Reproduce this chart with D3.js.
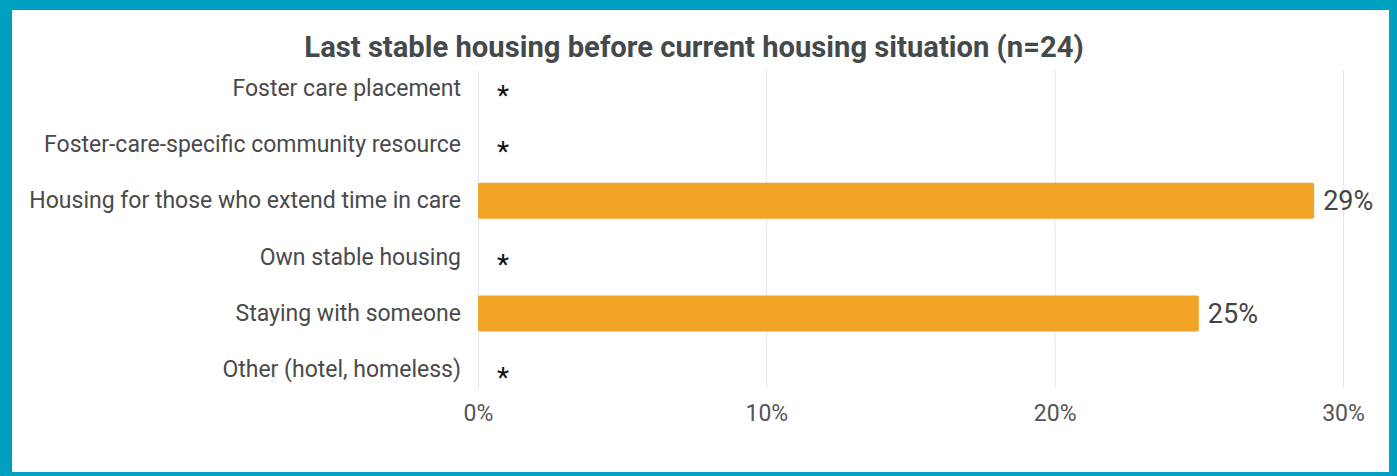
<!DOCTYPE html>
<html>
<head>
<meta charset="utf-8">
<script src="https://cdn.jsdelivr.net/npm/d3@7"></script>
<style>
  html, body { margin: 0; padding: 0; background: #fff; }
  svg { display: block; }
  text { font-family: Roboto, "Noto Sans", sans-serif; }
</style>
</head>
<body>
<svg id="chart" width="1397" height="476"></svg>
<script>
const title = "Last stable housing before current housing situation (n=24)";
const categories = [
  "Foster care placement",
  "Foster-care-specific community resource",
  "Housing for those who extend time in care",
  "Own stable housing",
  "Staying with someone",
  "Other (hotel, homeless)"
];
// null = suppressed (shown as *)
const values = [null, null, 29, null, 25, null];
const valueLabels = ["*", "*", "29%", "*", "25%", "*"];
const tickValues = [0, 10, 20, 30];
const tickLabels = ["0%", "10%", "20%", "30%"];

const W = 1397, H = 476;
const svg = d3.select("#chart");

// frame
svg.append("rect").attr("x", 0).attr("y", 0).attr("width", W).attr("height", H).attr("fill", "#00a0c0");
svg.append("rect").attr("x", 12).attr("y", 10).attr("width", 1377).attr("height", 462).attr("fill", "#ffffff");

const x = d3.scaleLinear().domain([0, 30]).range([478, 1343]);
const y = d3.scaleBand().domain(categories).range([60, 398]).paddingInner(0.36).paddingOuter(0.18);

// title
svg.append("text")
  .attr("x", 694).attr("y", 57)
  .attr("text-anchor", "middle")
  .attr("font-size", 29.2).attr("font-weight", 700)
  .attr("fill", "#444a4c")
  .text(title);

// gridlines
svg.append("g").selectAll("line").data(tickValues).join("line")
  .attr("x1", d => x(d) + 0.5).attr("x2", d => x(d) + 0.5)
  .attr("y1", 70).attr("y2", 388)
  .attr("stroke", "#e6e6e6").attr("stroke-width", 1);

// x axis labels
const xAxis = d3.axisBottom(x).tickValues(tickValues).tickFormat((d, i) => tickLabels[i]).tickSize(0).tickPadding(0);
const gx = svg.append("g").attr("transform", "translate(0,404.5)").call(xAxis);
gx.select(".domain").remove();
gx.selectAll("text").attr("font-size", 23).attr("fill", "#555").attr("font-family", "Roboto, sans-serif");

// category labels
const yAxis = d3.axisLeft(y).tickSize(0).tickPadding(0);
const gy = svg.append("g").attr("transform", "translate(461,0)").call(yAxis);
gy.select(".domain").remove();
gy.selectAll("text").attr("font-size", 23).attr("fill", "#4a4a4a").attr("font-family", "Roboto, sans-serif");

// bars
const rows = categories.map((c, i) => ({ c, v: values[i], label: valueLabels[i] }));
svg.append("g").selectAll("rect").data(rows.filter(d => d.v != null)).join("rect")
  .attr("x", x(0)).attr("y", d => y(d.c))
  .attr("width", d => x(d.v) - x(0))
  .attr("height", y.bandwidth())
  .attr("rx", 2).attr("ry", 2)
  .attr("fill", "#f0a324");

// value labels
svg.append("g").selectAll("text").data(rows.filter(d => d.v != null)).join("text")
  .attr("x", d => x(d.v) + 9)
  .attr("y", d => y(d.c) + y.bandwidth() / 2)
  .attr("dy", "0.35em")
  .attr("font-size", 27).attr("fill", "#444")
  .text(d => d.label);

// asterisks
svg.append("g").selectAll("text").data(rows.filter(d => d.v == null)).join("text")
  .attr("x", x(0) + 25)
  .attr("y", d => y(d.c) + y.bandwidth() / 2)
  .attr("dy", "0.6em")
  .attr("text-anchor", "middle")
  .attr("font-size", 28).attr("fill", "#111")
  .text(d => d.label);
</script>
</body>
</html>
